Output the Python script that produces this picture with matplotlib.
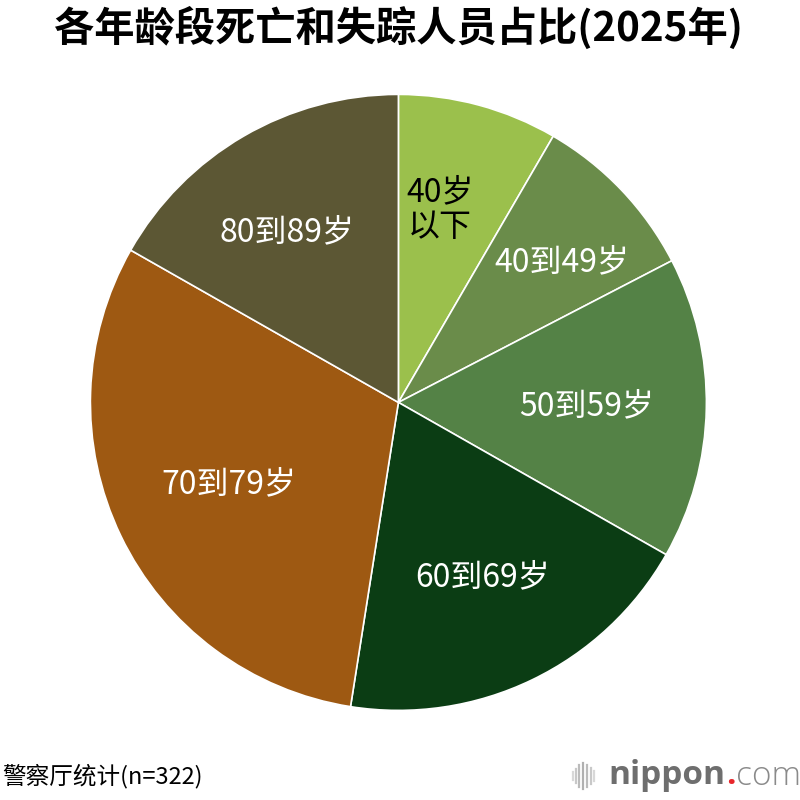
import numpy as np
import matplotlib.pyplot as plt
from matplotlib.lines import Line2D

plt.rcParams['font.family'] = ['Noto Sans CJK SC', 'DejaVu Sans']

# data (n=322), clockwise from the top
labels = ['40岁\n以下', '40到49岁', '50到59岁', '60到69岁', '70到79岁', '80到89岁']
counts = [27, 29, 51, 62, 99, 54]
colors = ['#9BC04C', '#6A8C4A', '#548246', '#0B3D14', '#9E5912', '#5C5734']
text_colors = ['black', 'white', 'white', 'white', 'white', 'white']
# label radius (fraction of pie radius) and small angle nudges
label_r = [0.64, 0.70, 0.61, 0.63, 0.61, 0.66]
label_da = [3, -3, 0, 0, 0, 3]

fig = plt.figure(figsize=(8, 8), dpi=100)
ax = fig.add_axes([0.498 - 0.385, 0.497 - 0.385, 0.77, 0.77])

wedges, _ = ax.pie(counts, colors=colors, startangle=90, counterclock=False,
                   radius=1, wedgeprops=dict(edgecolor='white', linewidth=1.2))

for w, lab, tc, r, da in zip(wedges, labels, text_colors, label_r, label_da):
    mid = np.deg2rad((w.theta1 + w.theta2) / 2 + da)
    ax.text(r * np.cos(mid), r * np.sin(mid), lab, ha='center', va='center',
            color=tc, fontsize=23, linespacing=1.1)

ax.set_xlim(-1, 1)
ax.set_ylim(-1, 1)
ax.set_aspect('equal')
ax.axis('off')

fig.text(0.4975, 1 - 28 / 800, '各年龄段死亡和失踪人员占比(2025年)', ha='center', va='center',
         fontsize=29, fontweight='bold')

fig.text(2 / 800, 1 - 776 / 800, '警察厅统计(n=322)', ha='left', va='center', fontsize=17)

# nippon.com logo
bar_x = [572.7, 576, 579.3, 582.7, 586.7, 590.7, 594]
bar_h = [8, 14, 22, 26, 22, 16, 10]
bar_c = ['#d8d8d8', '#c8c8c8', '#bbbbbb', '#b0b0b0', '#bbbbbb', '#c8c8c8', '#d8d8d8']
for bx, bh, bc in zip(bar_x, bar_h, bar_c):
    fig.add_artist(Line2D([bx / 800, bx / 800], [1 - (776 + bh / 2) / 800, 1 - (776 - bh / 2) / 800],
                          color=bc, linewidth=1.6, transform=fig.transFigure))

renderer = fig.canvas.get_renderer()
x = 608
for part, wt, col in [('nippon', 'bold', '#6e6e6e'), ('.', 'bold', '#e8262b'), ('com', 'light', '#8a8a8a')]:
    t = fig.text(x / 800, 1 - 776 / 800, part, ha='left', va='center', fontsize=24,
                 fontweight=wt, color=col, family='Open Sans')
    bb = t.get_window_extent(renderer)
    x = bb.x1 + 1

fig.savefig('out.png', dpi=100)
